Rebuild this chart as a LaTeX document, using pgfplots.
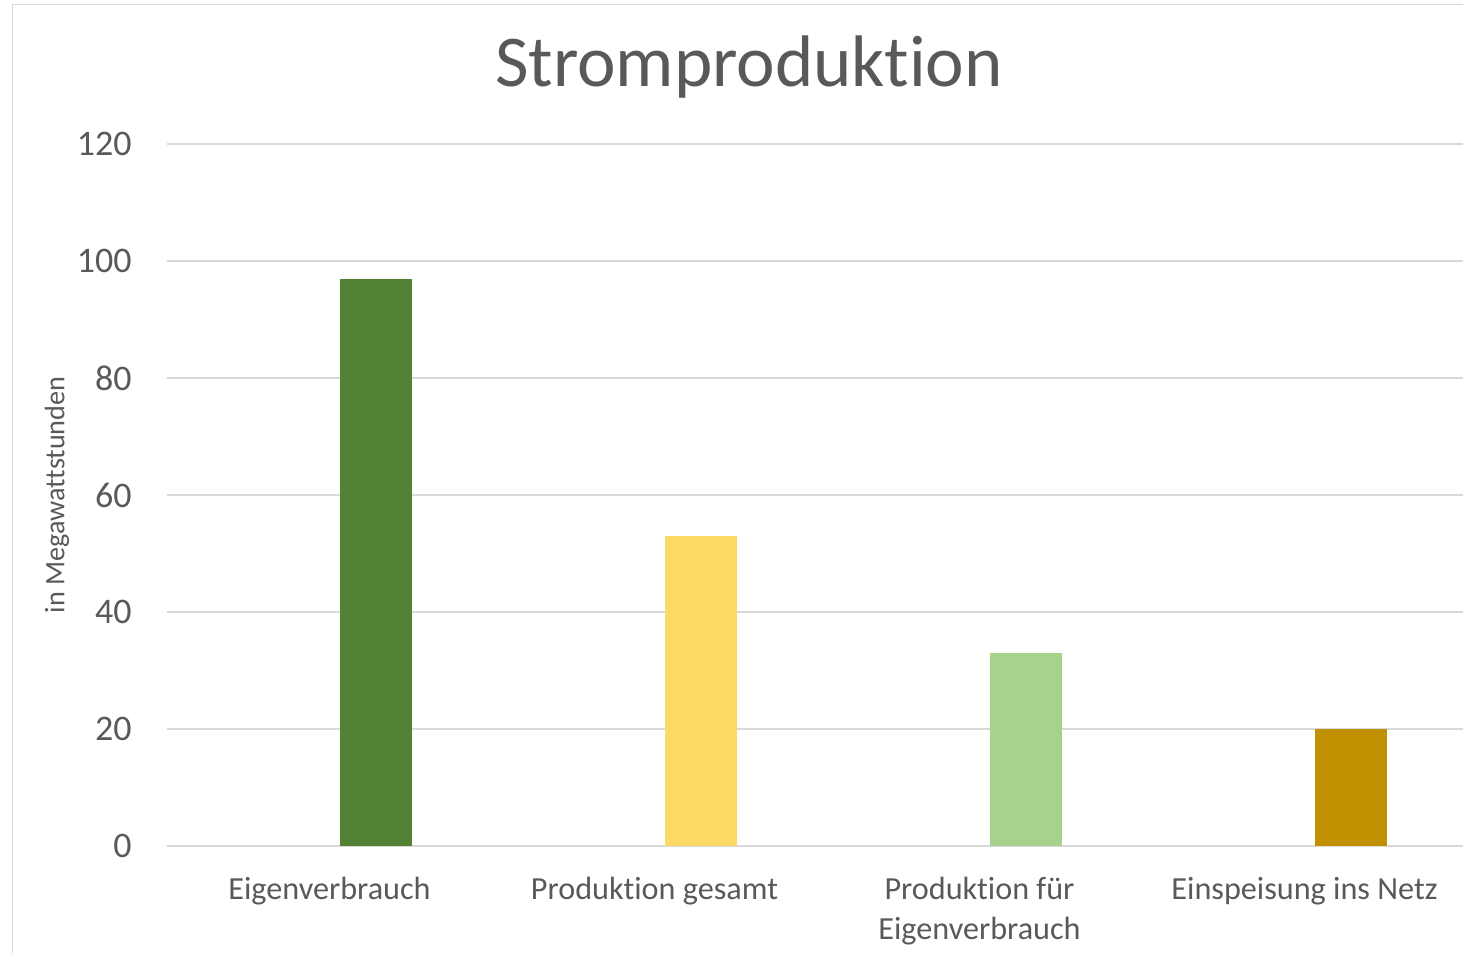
\documentclass[border=0pt]{standalone}
\usepackage{fontspec}
\setmainfont{Carlito}[Ligatures=NoCommon]
\usepackage{pgfplots}
\pgfplotsset{compat=1.18}
\definecolor{txt}{HTML}{595959}
\definecolor{grd}{HTML}{D9D9D9}
\definecolor{c1}{HTML}{548235}
\definecolor{c2}{HTML}{FFD966}
\definecolor{c3}{HTML}{A9D18E}
\definecolor{c4}{HTML}{BF9000}
\begin{document}
\begin{tikzpicture}
\useasboundingbox (0,0) rectangle (731.5pt,476.5pt);
\clip (0,0) rectangle (731.5pt,476.5pt);
\draw[grd, line width=0.85pt] (6.2pt,-2pt) -- (6.2pt,474.2pt) -- (740pt,474.2pt);
\begin{axis}[
  at={(83.5pt,53.5pt)}, anchor=south west,
  scale only axis, width=650pt, height=351pt,
  xmin=-0.5, xmax=3.5, ymin=0, ymax=120,
  ytick={0,20,40,60,80,100,120},
  xtick={0,1,2,3},
  xticklabels={Eigenverbrauch, Produktion gesamt, {Produktion für\\Eigenverbrauch}, Einspeisung ins Netz},
  axis line style={draw=none},
  major tick length=0pt,
  ymajorgrids, grid style={grd, line width=0.85pt},
  ybar, bar width=36pt, bar shift=23pt,
  /pgf/number format/assume math mode=true,
  yticklabel style={text=txt, font=\fontsize{18}{22}\selectfont, anchor=east, inner sep=0pt, xshift=-17.5pt},
  xticklabel style={text=txt, font=\fontsize{16.1}{20}\selectfont, align=center, anchor=north, inner sep=0pt, yshift=-15.5pt},
  clip=false,
]
\addplot[fill=c1, draw=none] coordinates {(0,97)};
\addplot[fill=c2, draw=none] coordinates {(1,53)};
\addplot[fill=c3, draw=none] coordinates {(2,33)};
\addplot[fill=c4, draw=none] coordinates {(3,20)};
\end{axis}
\node[text=txt, font=\fontsize{36.5}{44}\selectfont] at (374.5pt,443pt) {Stromproduktion};
\node[text=txt, font=\fontsize{14.1}{17}\selectfont, rotate=90] at (28.5pt,229pt) {in Megawattstunden};
\end{tikzpicture}
\end{document}
